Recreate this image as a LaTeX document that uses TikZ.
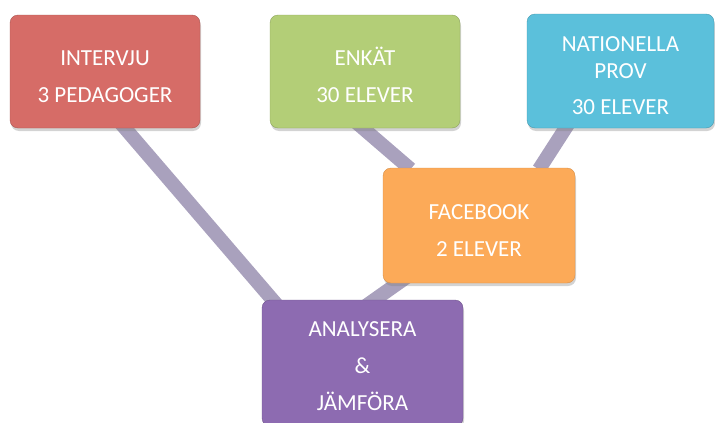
\documentclass[tikz,border=0pt]{standalone}
\usepackage{fontspec}
\setmainfont{Carlito}
\usetikzlibrary{shadows,backgrounds}
\definecolor{cred}{HTML}{D66C67}
\definecolor{cgreen}{HTML}{B3CE77}
\definecolor{cblue}{HTML}{5BC0DB}
\definecolor{corange}{HTML}{FCAA58}
\definecolor{cpurple}{HTML}{8D6BB1}
\definecolor{cbar}{HTML}{A9A1BD}
\newcommand{\mystrut}{\rule{0pt}{25pt}}
\tikzset{
  box/.style={rounded corners=8pt, minimum width=#1, inner sep=0pt, align=center,
    text=white, font=\fontsize{23}{27}\selectfont,
    drop shadow={opacity=0.35, shadow xshift=1pt, shadow yshift=-3pt}},
  bar/.style={line width=14pt, cbar, line cap=butt, shorten <=-12pt, shorten >=-12pt}
}
\begin{document}
\begin{tikzpicture}[x=1pt,y=-1pt]
\useasboundingbox (0,0) rectangle (715,423);
\node[box=190pt, minimum height=113pt, fill=cred, draw=cred!80!black] (int) at (105,71.5)
  {\mystrut INTERVJU\\[10pt]3 PEDAGOGER};
\node[box=190pt, minimum height=113pt, fill=cgreen, draw=cgreen!80!black] (enk) at (365,71.5)
  {\mystrut ENKÄT\\[10pt]30 ELEVER};
\node[box=187pt, minimum height=114pt, fill=cblue, draw=cblue!80!black] (nat) at (620.5,71)
  {\mystrut NATIONELLA\\PROV\\[9pt]30 ELEVER};
\node[box=192pt, minimum height=115pt, fill=corange, draw=corange!85!black] (fb) at (479,225.5)
  {\mystrut FACEBOOK\\[10pt]2 ELEVER};
\node[box=201pt, minimum height=126pt, fill=cpurple, draw=cpurple!80!black] (ana) at (362.5,363)
  {\rule{0pt}{21pt}ANALYSERA\\[10pt]\&\\[10pt]JÄMFÖRA};
\begin{pgfonlayer}{background}
\draw[bar] ([xshift=20pt]int.south) -- ([xshift=-90pt]ana.north);
\draw[bar, shorten >=-2pt] ([xshift=-2pt]enk.south) -- ([xshift=-70pt]fb.north);
\draw[bar, shorten >=-2pt] ([xshift=-55pt]nat.south) -- ([xshift=61pt]fb.north);
\draw[bar] ([xshift=-81pt]fb.south) -- ([xshift=12pt]ana.north);
\end{pgfonlayer}
\end{tikzpicture}
\end{document}
